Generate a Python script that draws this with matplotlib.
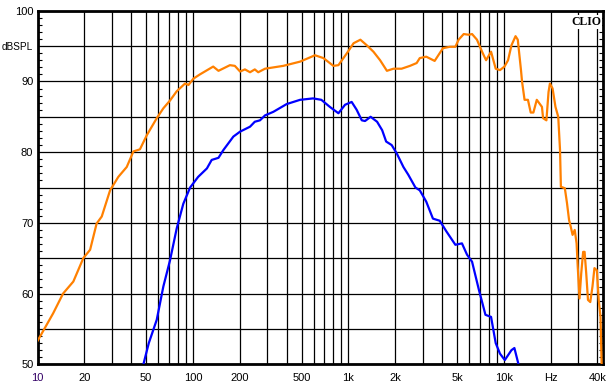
"""
Recreate a CLIO style frequency response plot (dBSPL vs frequency)
"""

import matplotlib
matplotlib.use('Agg')
import matplotlib.pyplot as plt
import numpy as np

# Orange trace
orange_freq = [10, 12.6, 14.6, 17.0, 19.7, 21.8, 24.0, 25.9, 29.3, 33.1, 37.5, 41.4,
               45.6, 50.5, 58.5, 64.5, 71.2, 78.6, 88.9, 93.6, 100.8, 111, 135, 146,
               173, 186, 201, 216, 233, 250, 263, 291, 381, 489, 610, 691, 801, 863,
               979, 1080, 1195, 1315, 1450, 1600, 1770, 1950, 2200, 2490, 2750, 2880,
               3170, 3590, 3870, 4060, 4500, 4880, 5120, 5520, 5950, 6250, 6720, 7250,
               7690, 8280, 8870, 9450, 10100, 10650, 11200, 11900, 12300, 12900, 13100,
               13600, 14300, 14900, 15500, 16300, 17600, 17900, 18800, 19400, 19800,
               20600, 21500, 22400, 23000, 23300, 24700, 25500, 26300, 27000, 27700,
               28600, 29400, 29900, 30700, 31500, 32400, 33100, 33900, 34800, 36000,
               37200, 38300, 39700, 40800, 41900, 42600]
orange_db = [53.3, 57.2, 60.0, 61.7, 65.0, 66.2, 69.9, 70.9, 74.6, 76.5, 77.9, 80.1,
             80.4, 82.4, 84.8, 86.2, 87.3, 88.6, 89.7, 89.5, 90.4, 91.0, 92.1, 91.5,
             92.3, 92.2, 91.4, 91.7, 91.3, 91.7, 91.3, 91.8, 92.2, 92.8, 93.7, 93.3,
             92.2, 92.3, 94.0, 95.4, 95.9, 95.1, 94.2, 93.0, 91.5, 91.8, 91.8, 92.2,
             92.6, 93.3, 93.5, 92.9, 94.0, 94.7, 94.9, 94.9, 95.9, 96.7, 96.6, 96.7,
             95.9, 94.2, 93.0, 94.2, 91.8, 91.6, 92.1, 93.0, 95.1, 96.4, 95.9, 91.6,
             90.0, 87.4, 87.4, 85.6, 85.6, 87.4, 86.4, 84.8, 84.5, 88.5, 89.7, 89.0,
             86.4, 85.0, 80.3, 75.1, 74.9, 72.8, 70.4, 69.4, 68.3, 69.0, 67.1, 63.8,
             59.3, 62.9, 65.9, 65.9, 62.9, 59.1, 58.8, 61.0, 63.6, 63.3, 59.1, 56.7,
             50.0]

# Blue trace
blue_freq = [48.0, 52, 58.5, 64.5, 71.2, 78.6, 86.7, 95.9, 108, 123, 132, 146, 157,
             182, 201, 233, 250, 270, 291, 329, 401, 489, 593, 670, 760, 863, 952,
             1050, 1130, 1220, 1280, 1390, 1530, 1650, 1750, 1900, 2050, 2260, 2430,
             2700, 2880, 3170, 3500, 3870, 4270, 4880, 5380, 5800, 6250, 6920, 7620,
             8280, 8870, 9450, 10150, 11200, 11700, 12400]
blue_db = [50.0, 53.0, 56.3, 61.0, 64.7, 69.2, 72.7, 75.0, 76.5, 77.7, 78.9, 79.2,
           80.3, 82.2, 82.9, 83.6, 84.3, 84.5, 85.2, 85.7, 86.8, 87.4, 87.6, 87.4,
           86.4, 85.5, 86.7, 87.1, 86.0, 84.5, 84.4, 85.0, 84.3, 83.1, 81.5, 81.0,
           79.8, 77.9, 76.8, 75.0, 74.6, 73.0, 70.6, 70.3, 68.8, 66.9, 67.1, 65.5,
           64.5, 60.5, 57.0, 56.7, 53.0, 51.5, 50.6, 52.0, 52.3, 50.1]

# Axis ticks / labels
grid_freqs = [m * 10 ** d for d in range(1, 5) for m in range(1, 10)]
grid_freqs = [f for f in grid_freqs if f <= 40000]
freq_labels = {10: '10', 20: '20', 50: '50', 100: '100', 200: '200', 500: '500',
               1000: '1k', 2000: '2k', 5000: '5k', 10000: '10k', 20000: 'Hz',
               40000: '40k'}
db_ticks = list(range(50, 101, 5))
db_labels = {100: '100', 95: 'dBSPL', 90: '90', 80: '80', 70: '70', 60: '60', 50: '50'}

plt.rcParams['font.family'] = ['Liberation Sans', 'DejaVu Sans']

fig = plt.figure(figsize=(6.09, 3.91), dpi=100)
ax = fig.add_axes([0.0616, 0.0683, 0.9281, 0.9043])

ax.plot(orange_freq, orange_db, color='#ff8000', lw=1.6, zorder=3)
ax.plot(blue_freq, blue_db, color='#0000ff', lw=1.6, zorder=3)

ax.set_xscale('log')
ax.set_xlim(10, 43300)
ax.set_ylim(50, 100)

ax.set_xticks(grid_freqs)
ax.set_xticklabels([freq_labels.get(f, '') for f in grid_freqs])
ax.xaxis.set_minor_locator(matplotlib.ticker.NullLocator())
ax.set_yticks(db_ticks)
ax.set_yticklabels([db_labels.get(v, '') for v in db_ticks])
ax.set_yticks(np.arange(50, 101, 1), minor=True)

ax.grid(True, which='major', color='black', lw=0.9)
ax.tick_params(axis='x', which='major', length=0, pad=6, labelsize=8)
ax.tick_params(axis='y', which='major', length=0, pad=3, labelsize=8)
ax.tick_params(axis='y', which='minor', direction='in', length=3, width=0.8,
               left=True, right=True)
ax.get_xticklabels()[0].set_color('#330066')
for lab in ax.get_yticklabels():
    if lab.get_text() == 'dBSPL':
        lab.set_fontsize(7.2)

for s in ax.spines.values():
    s.set_linewidth(2)

ax.text(0.997, 0.985, 'CLIO', transform=ax.transAxes, ha='right', va='top',
        fontsize=8.5, fontweight='bold', family='Liberation Serif', zorder=5,
        bbox=dict(facecolor='white', edgecolor='none', pad=0.5))

fig.savefig('out.png', dpi=100)
